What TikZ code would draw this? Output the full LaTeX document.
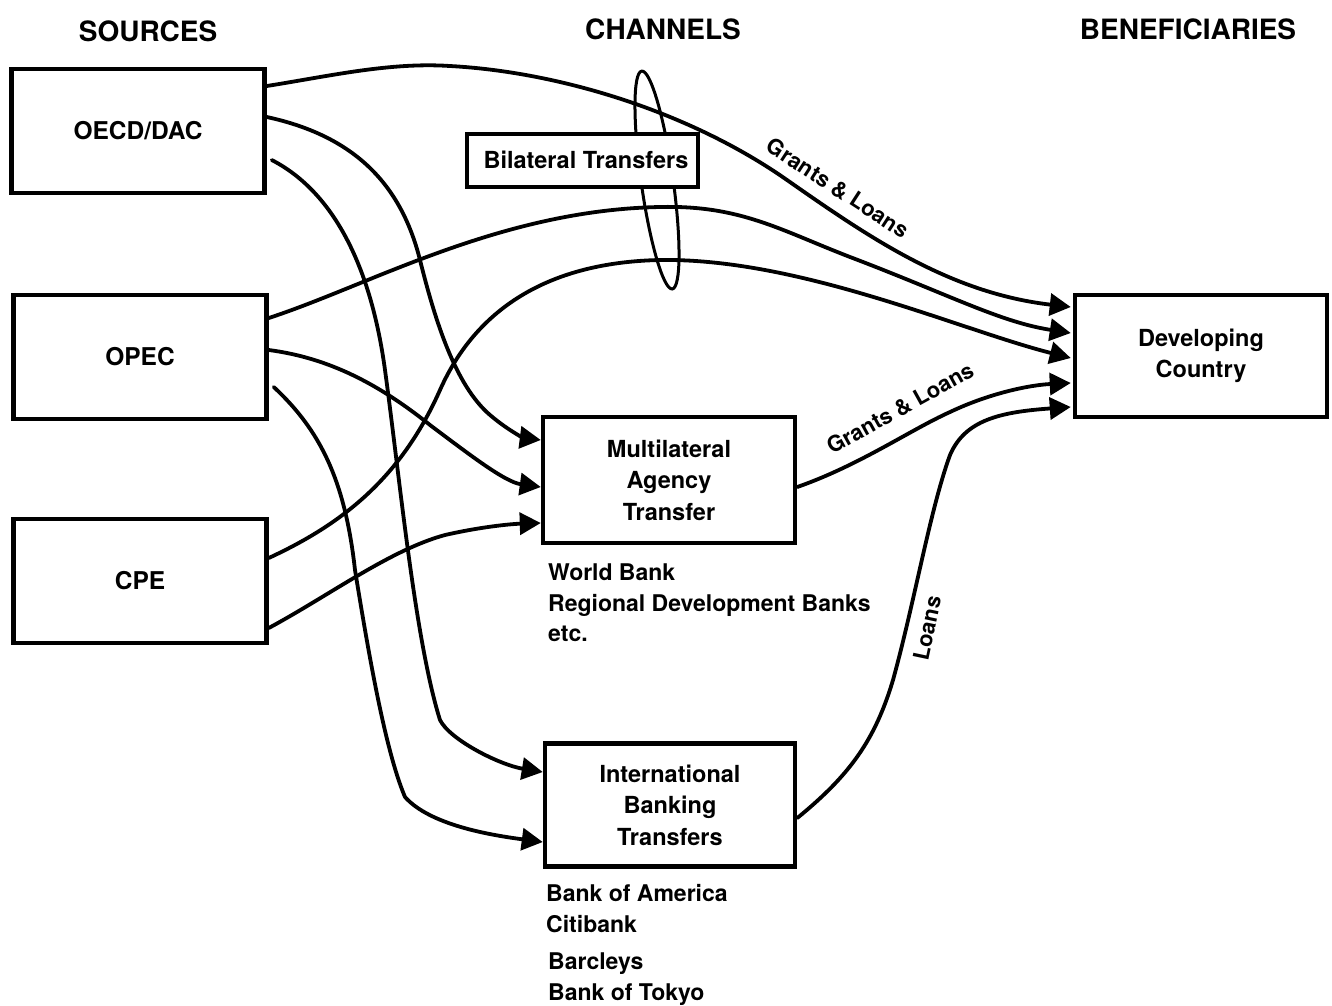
\documentclass[tikz,border=0pt]{standalone}
\usepackage{fontspec}
\setmainfont{TeX Gyre Heros}
\usetikzlibrary{arrows.meta,calc,shapes.geometric}
\pgfdeclarelayer{bg}
\pgfsetlayers{bg,main}
\begin{document}
\begin{tikzpicture}[x=1pt,y=-1pt,
  box/.style={draw, line width=4.5pt, fill=white, inner sep=0pt, align=center,
              font=\fontsize{23.5}{31.5}\selectfont\bfseries},
  srcbox/.style={box, minimum width=253pt, minimum height=124pt,
              font=\fontsize{24.5}{30}\selectfont\bfseries},
  flow/.style={line width=3.8pt, line cap=round, line join=round},
  arr/.style={flow, -{Triangle[length=21pt,width=22pt]}},
  hdr/.style={font=\fontsize{28}{32}\selectfont\bfseries, anchor=base, inner sep=0pt},
  sub/.style={font=\fontsize{23}{30}\selectfont\bfseries, anchor=base west, inner sep=0pt},
  lab/.style={font=\fontsize{22}{26}\selectfont\bfseries, inner sep=0pt}
]
\useasboundingbox (0,0) rectangle (1332,1005);

% headers
\node[hdr] (hs) at (148,41) {SOURCES};
\node[hdr] (hc) at (663,39) {CHANNELS};
\node[hdr] (hb) at (1188,39) {BENEFICIARIES};

% boxes
\node[srcbox] (oecd) at (138,131) {OECD/DAC};
\node[srcbox] (opec) at (140,357) {OPEC};
\node[srcbox] (cpe) at (140,581) {CPE};
\node[box, line width=4pt, minimum width=231pt, minimum height=53pt] (bil) at (582,160) {\hspace*{8pt}Bilateral Transfers};
\node[box, minimum width=252pt, minimum height=126pt] (mult) at (669,480) {Multilateral\\Agency\\Transfer};
\node[box, minimum width=250pt, minimum height=123pt] (ibt) at (670,805) {International\\Banking\\Transfers};
\node[box, minimum width=252pt, minimum height=122pt] (dc) at (1201,356) {Developing\\Country};

% sub labels
\node[sub] (wb) at (548,580) {World Bank};
\node[sub] (rdb) at (548,611) {Regional Development Banks};
\node[sub] (etc) at (548,641) {etc.};
\node[sub] (boa) at (546,901) {Bank of America};
\node[sub] (citi) at (546,932) {Citibank};
\node[sub] (barc) at (548,969) {Barcleys};
\node[sub] (bot) at (548,1000) {Bank of Tokyo};

% connector labels
\node[lab, rotate=-33] (gl1) at (838,188) {Grants \& Loans};
\node[lab, rotate=29] (gl2) at (900,408) {Grants \& Loans};
\node[lab, rotate=78] (ln) at (927,628) {Loans};

\begin{pgfonlayer}{bg}
\fill[white] (0,0) rectangle (1332,1005);
% ring around the bilateral flows
\node[draw, ellipse, line width=3pt, minimum width=32pt, minimum height=220pt,
      inner sep=0pt, rotate=8] (ring) at (657,180) {};

% to developing country
\draw[arr] ($(oecd.east)+(0,-45)$) .. controls (330,76) and (390,62) .. (450,66)
  .. controls (560,72) and (690,112) .. (787,180)
  .. controls (870,238) and (950,293) .. ($(dc.west)+(-2,-49)$);
\draw[arr] ($(opec.east)+(0,-39)$) .. controls (370,285) and (500,210) .. (660,207)
  .. controls (740,205) and (780,230) .. (850,257)
  .. controls (950,295) and (1000,322) .. ($(dc.west)+(-2,-23)$);
\draw[arr] ($(cpe.east)+(0,-23)$) .. controls (340,525) and (400,480) .. (440,390)
  .. controls (480,300) and (560,262) .. (660,260)
  .. controls (800,258) and (960,330) .. ($(dc.west)+(-2,2)$);
\draw[arr] ($(mult.east)+(0,7)$) .. controls (860,465) and (910,430) .. (950,412)
  .. controls (990,393) and (1030,385) .. ($(dc.west)+(-2,27)$);
\draw[arr] ($(ibt.east)+(0,13)$) .. controls (850,775) and (875,740) .. (893,680)
  .. controls (915,600) and (930,510) .. (950,455)
  .. controls (965,420) and (1000,412) .. ($(dc.west)+(-2,51)$);

% to multilateral agency
\draw[arr] ($(oecd.east)+(0,-14)$) .. controls (350,135) and (400,180) .. (420,260)
  .. controls (435,320) and (455,385) .. (490,415)
  .. controls (510,432) and (525,438) .. ($(mult.west)+(0,-40)$);
\draw[arr] ($(opec.east)+(0,-7)$) .. controls (330,358) and (380,385) .. (430,425)
  .. controls (470,455) and (505,482) .. ($(mult.west)+(0,7)$);
\draw[arr] ($(cpe.east)+(0,47)$) .. controls (330,595) and (390,550) .. (445,535)
  .. controls (480,527) and (510,524) .. ($(mult.west)+(0,43)$);

% to international banking
\draw[arr] ($(oecd.east)+(5,29)$) .. controls (330,190) and (370,260) .. (385,370)
  .. controls (400,480) and (415,640) .. (440,720)
  .. controls (450,740) and (500,765) .. ($(ibt.west)+(0,-33)$);
\draw[arr] ($(opec.east)+(5,30)$) .. controls (320,430) and (345,480) .. (355,570)
  .. controls (368,650) and (385,750) .. (405,797)
  .. controls (430,825) and (490,835) .. ($(ibt.west)+(0,37)$);
\end{pgfonlayer}
\end{tikzpicture}
\end{document}
